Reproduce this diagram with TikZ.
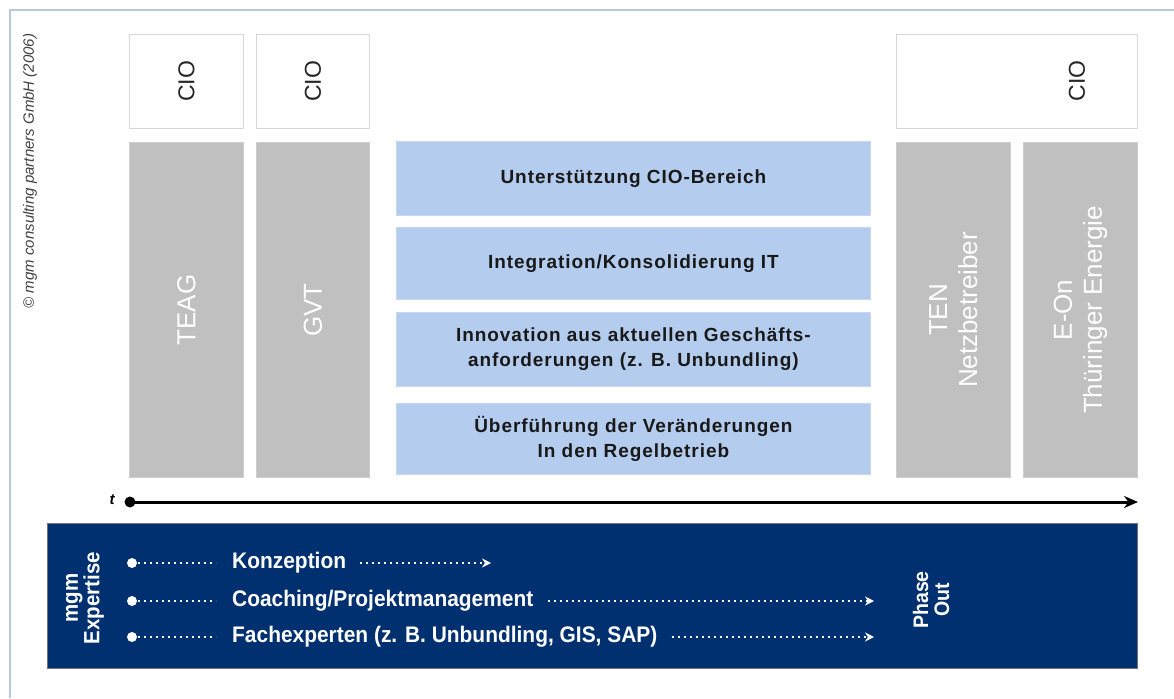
\documentclass[tikz,border=0pt]{standalone}
\usepackage{fontspec}
\setmainfont{Liberation Sans}
\newfontfamily\cond[FakeStretch=0.93]{Liberation Sans}
\newfontfamily\spaced[LetterSpace=5]{Liberation Sans}
\usetikzlibrary{arrows.meta}
\definecolor{navy}{RGB}{0,48,112}
\definecolor{lblue}{RGB}{180,204,238}
\definecolor{gbox}{RGB}{192,192,192}
\definecolor{frame}{RGB}{184,200,222}
\tikzset{
  ciobox/.style={draw={rgb,255:red,215;green,215;blue,215}, fill=white, line width=0.8pt, anchor=north west, minimum height=94pt, inner sep=0pt},
  graybox/.style={draw={rgb,255:red,205;green,205;blue,205}, fill=gbox, line width=0.8pt, anchor=north west, minimum height=335pt, inner sep=0pt},
  bluebox/.style={fill=lblue, draw={rgb,255:red,196;green,216;blue,242}, line width=0.8pt, anchor=north west, minimum width=474pt, inner sep=0pt},
  ciotext/.style={rotate=90, font=\fontsize{23}{26}\selectfont, text=black!85},
  graytext/.style={rotate=90, align=center, text=white, font=\fontsize{26}{30}\selectfont},
  bluetext/.style={align=center, font=\spaced\bfseries\fontsize{19}{25}\selectfont, text=black!90},
  rowtext/.style={anchor=west, text=white, font=\cond\bfseries\fontsize{22.5}{26}\selectfont, inner sep=0pt},
  dots/.style={white, line width=2pt, dash pattern=on 2pt off 4pt},
  dotarrow/.style={dots, -{Stealth[length=9pt,width=9pt]}},
  startdot/.style={circle, fill=white, inner sep=0pt, minimum size=10pt},
}
\begin{document}
\begin{tikzpicture}[x=1pt,y=-1pt]
\useasboundingbox (0,0) rectangle (1174,698);
% frame
\draw[frame, line width=1.2pt] (10,698) -- (10,10) -- (1174,10);
% copyright
\node[rotate=90, font=\itshape\fontsize{15}{17}\selectfont, text=black!75] (copy) at (30,171) {\textcopyright{} mgm consulting partners GmbH (2006)};
% CIO boxes
\node[ciobox, minimum width=114pt] (cio1) at (129,34) {};
\node[ciobox, minimum width=113pt] (cio2) at (256,34) {};
\node[ciobox, minimum width=241pt] (cio3) at (896,34) {};
\node[ciotext] (cio1t) at (cio1.center) {CIO};
\node[ciotext] (cio2t) at (cio2.center) {CIO};
\node[ciotext] (cio3t) at (1077,81) {CIO};
% gray boxes
\node[graybox, minimum width=114pt] (teag) at (129,142) {};
\node[graybox, minimum width=113pt] (gvt) at (256,142) {};
\node[graybox, minimum width=114pt] (ten) at (896,142) {};
\node[graybox, minimum width=114pt] (eon) at (1023,142) {};
\node[graytext] (teagt) at (teag.center) {TEAG};
\node[graytext] (gvtt) at (gvt.center) {GVT};
\node[graytext] (tent) at (ten.center) {TEN\\Netzbetreiber};
\node[graytext] (eont) at (eon.center) {E-On\\Thüringer Energie};
% blue boxes
\node[bluebox, minimum height=74pt] (b1) at (396,141) {};
\node[bluebox, minimum height=72pt] (b2) at (396,227) {};
\node[bluebox, minimum height=74pt] (b3) at (396,312) {};
\node[bluebox, minimum height=71pt] (b4) at (396,403) {};
\node[bluetext] (b1t) at (b1.center) {Unterstützung CIO-Bereich};
\node[bluetext] (b2t) at (b2.center) {Integration/Konsolidierung IT};
\node[bluetext] (b3t) at (b3.center) {Innovation aus aktuellen Geschäfts-\\anforderungen (z. B. Unbundling)};
\node[bluetext] (b4t) at (b4.center) {Überführung der Veränderungen\\In den Regelbetrieb};
% timeline
\node[circle, fill=black, inner sep=0pt, minimum size=11pt] (t0) at (130,502) {};
\coordinate (t1) at (1138,502);
\draw[line width=3pt, -{Stealth[length=14pt,width=12pt]}] (t0.center) -- (t1);
\node[font=\bfseries\itshape\fontsize{15}{17}\selectfont] (tlab) at (112,500) {t};
% navy box
\node[fill=navy, draw=black!55, line width=0.8pt, anchor=north west, minimum width=1090pt, minimum height=145pt, inner sep=0pt] (mgmbox) at (47,523) {};
\node[rotate=90, align=center, text=white, font=\cond\bfseries\fontsize{22}{19}\selectfont] (exp) at (85,598) {mgm\\Expertise};
\node[rotate=90, align=center, text=white, font=\cond\bfseries\fontsize{21}{21}\selectfont] (phase) at (931,600) {Phase\\Out};
% rows
\node[startdot] (d1) at (132,563) {};
\node[startdot] (d2) at (132,601) {};
\node[startdot] (d3) at (132,637) {};
\node[rowtext] (r1) at (232,563) {Konzeption};
\node[rowtext] (r2) at (232,601) {Coaching/Projektmanagement};
\node[rowtext] (r3) at (232,637) {Fachexperten (z. B. Unbundling, GIS, SAP)};
\coordinate (e1) at (491,563);
\coordinate (e2) at (874,601);
\coordinate (e3) at (874,637);
\draw[dots] (d1.center) -- ([xshift=-16pt]r1.west);
\draw[dots] (d2.center) -- ([xshift=-16pt]r2.west);
\draw[dots] (d3.center) -- ([xshift=-16pt]r3.west);
\draw[dotarrow] ([xshift=14pt]r1.east) -- (e1);
\draw[dotarrow] ([xshift=14pt]r2.east) -- (e2);
\draw[dotarrow] ([xshift=14pt]r3.east) -- (e3);
\end{tikzpicture}
\end{document}
